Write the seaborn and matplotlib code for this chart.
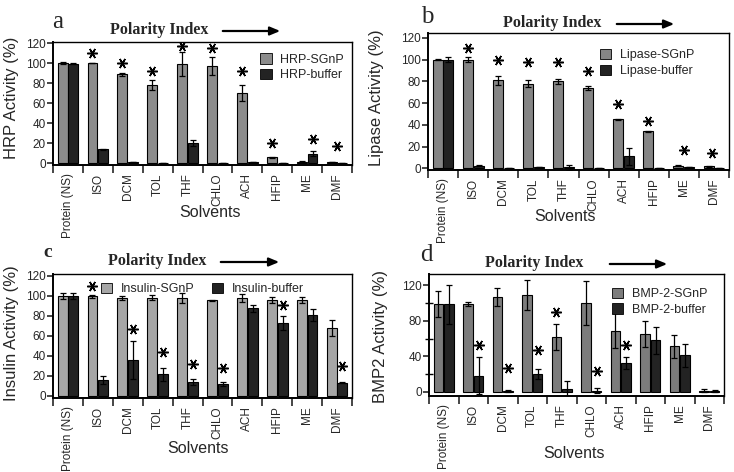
import numpy as np
import pandas as pd
import matplotlib
matplotlib.use('Agg')
import matplotlib.pyplot as plt
from matplotlib.patches import Patch
import seaborn as sns

sns.set_style('white')
plt.rcParams['font.family'] = ['Liberation Sans', 'DejaVu Sans']

solvents = ['Protein (NS)', 'ISO', 'DCM', 'TOL', 'THF', 'CHLO', 'ACH', 'HFIP', 'ME', 'DMF']

# panel a - HRP
hrp_sgnp = [100, 100, 89, 78, 99, 97, 70, 6, 1.5, 0.7]
hrp_sgnp_err = [1, 0.3, 1.5, 5, 12, 9, 8, 0.5, 0.7, 0]
hrp_buffer = [99, 14, 0.6, 0.4, 20, 0.4, 1.5, 0.4, 9.5, 0.4]
hrp_buffer_err = [0.5, 0.5, 0, 0, 3, 0, 0, 0, 2.5, 0]
hrp_stars = [('ISO', 0, 110), ('DCM', 0, 100), ('TOL', 0, 92), ('THF', 0, 117),
             ('CHLO', 0, 115), ('ACH', 0, 92), ('HFIP', 0, 20), ('ME', 1, 24), ('DMF', 0.5, 17)]

# panel b - Lipase
lip_sgnp = [100, 100, 81, 78, 80, 74, 45, 34, 2.5, 2]
lip_sgnp_err = [0.5, 2, 4, 3.5, 2.5, 2, 0.5, 0.5, 0.5, 0.5]
lip_buffer = [100, 2.5, 0.6, 1.5, 1, 0.4, 11, 0.4, 1.5, 0.6]
lip_buffer_err = [2, 0.5, 0, 0, 2.5, 0, 8, 0, 0, 0]
lip_stars = [('ISO', 0, 111), ('DCM', 0, 100), ('TOL', 0, 97.5), ('THF', 0, 97.5),
             ('CHLO', 0, 90), ('ACH', 0, 59), ('HFIP', 0, 44), ('ME', 0.5, 17), ('DMF', 0.3, 14)]

# panel c - Insulin
ins_sgnp = [100, 100, 98, 98.5, 98, 96, 98, 96, 96, 68]
ins_sgnp_err = [3, 1.5, 2, 2.5, 5, 0.5, 4, 3, 3, 8]
ins_buffer = [100, 16, 36, 22, 14.5, 12.5, 88, 73.5, 81, 13.5]
ins_buffer_err = [3, 4, 19, 6.5, 3, 2, 3.5, 7, 6, 0.5]
ins_stars = [('ISO', 0, 110), ('DCM', 1, 67), ('TOL', 1, 44), ('THF', 1, 32),
             ('CHLO', 1, 28), ('HFIP', 1, 91), ('DMF', 1, 30)]

# panel d - BMP-2
bmp_sgnp = [99, 99, 107, 109, 62, 100, 69, 65, 51, 1]
bmp_sgnp_err = [15, 2, 10, 17, 15, 25, 20, 15, 13, 2]
bmp_buffer = [99, 18, 1, 20, 3, 1, 32, 58, 41, 0.5]
bmp_buffer_err = [22, 21, 1, 6, 9, 3, 7, 15, 13, 1]
bmp_stars = [('ISO', 1, 53), ('DCM', 1, 27), ('TOL', 1, 47), ('THF', 0, 90),
             ('CHLO', 1, 23), ('ACH', 1, 53)]

W, H = 734, 472
fig = plt.figure(figsize=(W / 100, H / 100), dpi=100)


def px_rect(l, t, r, b):
    return [l / W, 1 - b / H, (r - l) / W, (b - t) / H]


def panel(rect, name, sgnp, sgnp_err, buf, buf_err, stars, ylim, yticks, ylabel,
          light, leg_kw, ylab_xy, xlab_xy, minor=None):
    ax = fig.add_axes(px_rect(*rect))
    df = pd.DataFrame({
        'Solvent': solvents * 2,
        'Activity': sgnp + buf,
        'Sample': [name + '-SGnP'] * 10 + [name + '-buffer'] * 10,
    })
    pal = {name + '-SGnP': light, name + '-buffer': '#232323'}
    sns.barplot(data=df, x='Solvent', y='Activity', hue='Sample', palette=pal,
                errorbar=None, width=0.72, gap=0.08, edgecolor='black',
                linewidth=0.8, saturation=1, ax=ax, legend=False)
    errs = [sgnp_err, buf_err]
    vals = [sgnp, buf]
    bar_groups = list(ax.containers)[:2]
    centers = []
    for k, cont in enumerate(bar_groups):
        xs = [p.get_x() + p.get_width() / 2 for p in cont]
        centers.append(xs)
        ax.errorbar(xs, vals[k], yerr=errs[k], fmt='none', ecolor='black',
                    elinewidth=0.9, capsize=2.5, capthick=0.9, zorder=5)
    for solv, s, y in stars:
        i = solvents.index(solv)
        x = centers[0][i] + (centers[1][i] - centers[0][i]) * s
        ax.plot(x, y, marker=(6, 2, 90), markersize=7.5, mew=1.1, color='black',
                linestyle='none', zorder=6)
    ax.set_xlim(-0.5, 9.5)
    ax.set_ylim(*ylim)
    ax.set_yticks(yticks)
    ax.set_yticklabels([str(v) for v in yticks], fontsize=8.5)
    if minor is not None:
        ax.set_yticks(minor, minor=True)
        ax.tick_params(axis='y', which='minor', direction='inout', length=6, width=1,
                       left=True, color='black')
    ax.set_xticks(np.arange(-0.5, 10, 1))
    ax.set_xticklabels([])
    ax.set_xticks(np.arange(10), minor=True)
    ax.set_xticklabels(solvents, minor=True, rotation=90, fontsize=8.5)
    ax.tick_params(axis='x', which='major', direction='out', length=6, width=1.2, bottom=True)
    ax.tick_params(axis='x', which='minor', length=0, pad=6)
    ax.tick_params(axis='y', which='major', direction='out', length=4, width=1.2, left=True, pad=1)
    for sp in ax.spines.values():
        sp.set_color('black')
        sp.set_linewidth(1)
    ax.spines['left'].set_linewidth(1.4)
    ax.spines['bottom'].set_linewidth(1.4)
    ax.set_ylabel(ylabel, fontsize=12)
    ax.yaxis.set_label_coords(*ylab_xy)
    ax.yaxis.label.set_va('center')
    ax.set_xlabel('Solvents', fontsize=11.5)
    ax.xaxis.set_label_coords(*xlab_xy)
    ax.xaxis.label.set_va('center')
    handles = [Patch(facecolor=light, edgecolor='black', linewidth=0.6),
               Patch(facecolor='#232323', edgecolor='black', linewidth=0.6)]
    ax.legend(handles, [name + '-SGnP', name + '-buffer'], frameon=False, fontsize=9,
              handlelength=0.9, handleheight=0.9, handletextpad=0.7,
              labelspacing=0.25, borderaxespad=0, **leg_kw)
    return ax


panel((53, 42, 352, 165), 'HRP', hrp_sgnp, hrp_sgnp_err, hrp_buffer, hrp_buffer_err,
      hrp_stars, (-2, 121), [0, 20, 40, 60, 80, 100, 120], 'HRP Activity (%)', '#8c8c8c',
      dict(loc='upper right', bbox_to_anchor=(0.99, 0.95)), (-0.14, 0.55), (0.525, -0.39))
panel((428, 33, 729, 170), 'Lipase', lip_sgnp, lip_sgnp_err, lip_buffer, lip_buffer_err,
      lip_stars, (-1.5, 124.5), [0, 20, 40, 60, 80, 100, 120], 'Lipase Activity (%)', '#858585',
      dict(loc='upper right', bbox_to_anchor=(0.9, 0.92)), (-0.17, 0.53), (0.455, -0.34))
panel((53, 274, 352, 398), 'Insulin', ins_sgnp, ins_sgnp_err, ins_buffer, ins_buffer_err,
      ins_stars, (-2, 122), [0, 20, 40, 60, 80, 100, 120], 'Insulin Activity (%)', '#a6a6a6',
      dict(loc='upper center', bbox_to_anchor=(0.5, 0.97), ncol=2, columnspacing=1.4),
      (-0.14, 0.52), (0.485, -0.41))
panel((429, 274, 724, 396), 'BMP-2', bmp_sgnp, bmp_sgnp_err, bmp_buffer, bmp_buffer_err,
      bmp_stars, (-5, 133), [0, 40, 80, 120], 'BMP2 Activity (%)', '#7c7c7c',
      dict(loc='upper right', bbox_to_anchor=(0.96, 0.93)), (-0.163, 0.49), (0.49, -0.47),
      minor=[20, 60, 100])

# panel letters and "Polarity Index" headers
letters = [('a', 52, 28, 18), ('b', 421, 23, 18), ('c', 43, 257, 14), ('d', 420, 261, 18)]
for txt, x, y, fs in letters:
    fig.text(x / W, 1 - y / H, txt, fontsize=fs, family='Liberation Serif',
             ha='left', va='baseline', fontweight='bold' if txt == 'c' else 'normal')

headers = [(110, 30, 220, 283), (503, 23, 614, 677), (108, 261, 218, 282), (485, 263, 607, 670)]
for x, y, a0, a1 in headers:
    fig.text(x / W, 1 - y / H, 'Polarity Index', fontsize=11.5, family='Liberation Serif',
             fontweight='bold', ha='left', va='center')
    fig.add_artist(matplotlib.patches.FancyArrowPatch(
        (a0 / W, 1 - (y + 1) / H), (a1 / W, 1 - (y + 1) / H), transform=fig.transFigure,
        arrowstyle='-|>,head_length=6,head_width=2.5', color='black', linewidth=1.6))

fig.savefig('out.png', dpi=100)
